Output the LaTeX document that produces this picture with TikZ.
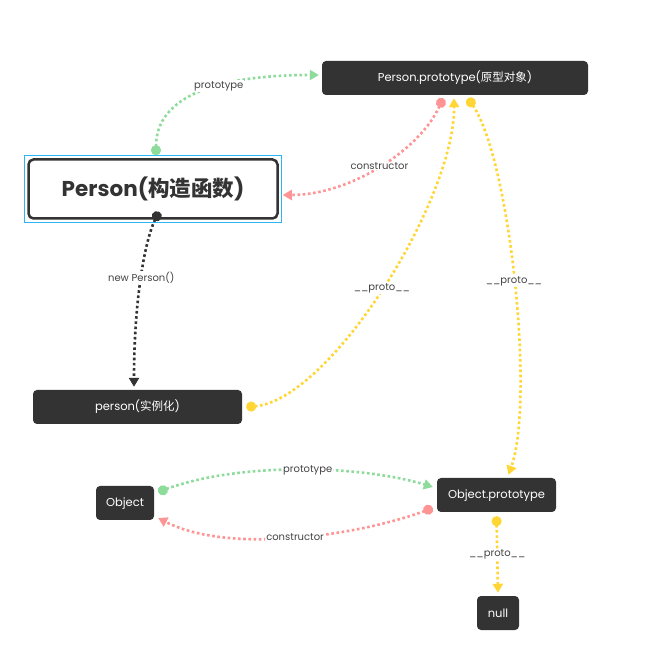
\documentclass[tikz,border=0pt]{standalone}
\usepackage{fontspec}
\setmainfont{Poppins}
\newfontfamily\cjk{Noto Sans CJK SC}
\usetikzlibrary{arrows.meta,calc}

\definecolor{boxdark}{HTML}{333333}
\definecolor{selblue}{HTML}{29B6F6}
\definecolor{lgreen}{HTML}{8EDC9B}
\definecolor{lpink}{HTML}{FF9494}
\definecolor{lyellow}{HTML}{FFD633}
\definecolor{lbltext}{HTML}{444444}

\tikzset{
	darkbox/.style={fill=boxdark, text=white, rounded corners=4pt, minimum height=34pt, inner sep=2pt, text height=10pt, text depth=2pt, font=\fontsize{11.5}{13}\selectfont},
	link/.style={line width=2.6pt, dash pattern=on 2.6pt off 2.6pt, {Circle[length=10pt]}-{Triangle[length=9pt,width=10pt]}},
	lbl/.style={fill=white, text=lbltext, inner sep=1pt, font=\fontsize{10}{12}\selectfont}
}

\begin{document}
\begin{tikzpicture}[x=1pt,y=-1pt]
	\fill[white] (0,0) rectangle (649,647);
	\useasboundingbox (0,0) rectangle (649,647);

	% the boxes
	\node[darkbox, minimum width=266pt] (pp) at (455,78) {Person.prototype({\cjk 原型对象})};
	\node[fill=white, draw=boxdark, line width=2.5pt, rounded corners=5pt, minimum width=249pt, minimum height=59pt, text=boxdark, font=\fontsize{21.5}{25}\selectfont\bfseries] (per) at (153,189) {Person({\cjk 构造函数})};
	\draw[selblue, line width=1pt] ($(per.north west)+(-3pt,3pt)$) rectangle ($(per.south east)+(3pt,-3pt)$);
	\node[darkbox, minimum width=209pt] (inst) at (137.5,407) {person({\cjk 实例化})};
	\node[darkbox, minimum width=58pt] (obj) at (125,503) {Object};
	\node[darkbox, minimum width=119pt] (op) at (496.5,495) {Object.prototype};
	\node[darkbox, minimum width=42pt] (nul) at (498,613) {null};

	% Person <-> Person.prototype
	\draw[link, lgreen] ([xshift=3pt,yshift=3pt]per.north) .. controls (156,95) and (220,75) .. ([xshift=-3pt,yshift=3pt]pp.west)
		node[lbl, pos=0.6] {prototype};
	\draw[link, lpink] ([xshift=-12pt,yshift=-3pt]pp.south) .. controls (420,150) and (350,195) .. ([xshift=4pt,yshift=-6pt]per.east)
		node[lbl, pos=0.5] {constructor};
	\draw[link, boxdark] ([xshift=6pt,yshift=8pt]per.south) .. controls (145,240) and (134,300) .. ([xshift=-3.5pt,yshift=3pt]inst.north)
		node[lbl, pos=0.5] {new Person()};

	% __proto__ chain
	\draw[link, lyellow] ([xshift=4pt]inst.east) .. controls (330,400) and (455,200) .. ([xshift=-1pt,yshift=-3pt]pp.south)
		node[lbl, pos=0.5] {\_\_proto\_\_};
	\draw[link, lyellow] ([xshift=13pt,yshift=-3pt]pp.south) .. controls (510,160) and (535,400) .. ([xshift=12pt,yshift=3pt]op.north)
		node[lbl, pos=0.5] {\_\_proto\_\_};
	\draw[link, lyellow] ([yshift=-4pt]op.south) -- ([yshift=3pt]nul.north)
		node[lbl, pos=0.5] {\_\_proto\_\_};

	% Object <-> Object.prototype
	\draw[link, lgreen] ([xshift=4pt,yshift=11pt]obj.east) .. controls (240,462) and (360,465) .. ([xshift=-4pt,yshift=8pt]op.west)
		node[lbl, pos=0.53] {prototype};
	\draw[link, lpink] ([xshift=-4pt,yshift=-13pt]op.west) .. controls (360,535) and (230,555) .. ([xshift=4pt,yshift=-15pt]obj.east)
		node[lbl, pos=0.5] {constructor};
\end{tikzpicture}
\end{document}
